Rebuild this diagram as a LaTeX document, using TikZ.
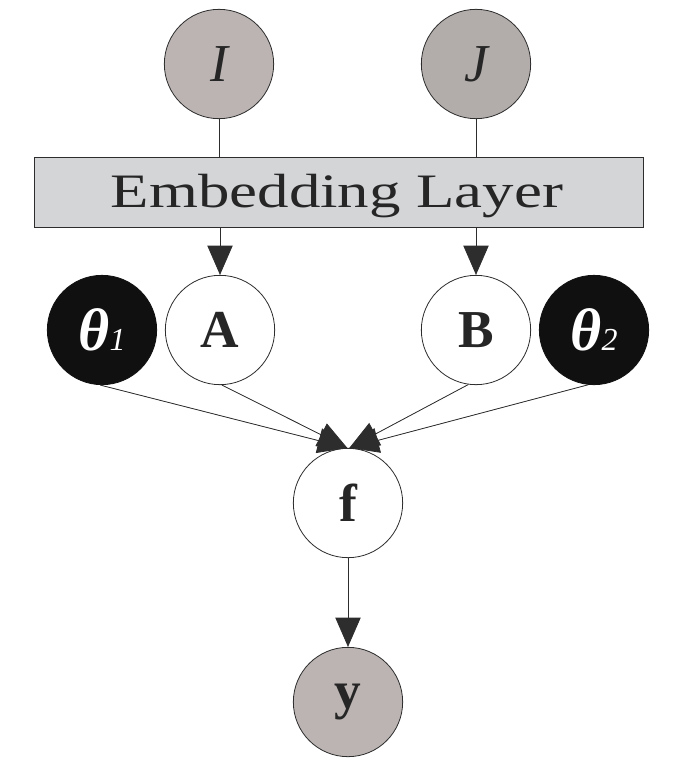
\documentclass[tikz,border=0pt]{standalone}
\usepackage{fontspec}
\setmainfont{Liberation Serif}
\usetikzlibrary{arrows.meta}
\definecolor{ifill}{RGB}{187,180,178}
\definecolor{jfill}{RGB}{178,173,171}
\definecolor{yfill}{RGB}{187,180,178}
\definecolor{embfill}{RGB}{211,213,215}
\definecolor{thfill}{RGB}{16,16,16}
\definecolor{edge}{RGB}{45,45,45}
\begin{document}
\begin{tikzpicture}[x=0.75pt,y=-0.75pt,
  nodecirc/.style={circle,draw=edge,line width=0.6pt,minimum size=82pt,inner sep=0pt},
  conn/.style={line width=0.6pt,draw=edge},
  arr/.style={conn,-{Triangle[length=22pt,width=19pt]},fill=edge},
  ital/.style={font=\fontsize{40pt}{40pt}\selectfont\itshape,text=black!85},
  boldl/.style={font=\fontsize{40pt}{40pt}\selectfont\bfseries,text=black!85},
  thl/.style={font=\fontsize{45pt}{45pt}\selectfont\bfseries\itshape,text=white}]
\useasboundingbox (0,0) rectangle (688,768);
% top inputs
\node[nodecirc,fill=ifill,ital] (I) at (219,64) {I};
\node[nodecirc,fill=jfill,ital] (J) at (476,64) {J};
% embedding layer
\node[draw=edge,line width=0.6pt,fill=embfill,minimum width=456.75pt,minimum height=52.5pt,inner sep=0pt] (emb) at (338.5,192.5) {};
\node[anchor=base,inner sep=0pt,font=\fontsize{36pt}{36pt}\selectfont,text=black!85] (embtxt) at (337,207) {\scalebox{1.31}[1]{Embedding Layer}};
% middle row
\node[nodecirc,fill=thfill,draw=thfill,thl] (t1) at (102,330) {θ{\fontsize{24pt}{24pt}\selectfont\mdseries\itshape 1}};
\node[nodecirc,fill=white,boldl] (A) at (220,330) {A};
\node[nodecirc,fill=white,boldl] (B) at (476,330) {B};
\node[nodecirc,fill=thfill,draw=thfill,thl] (t2) at (594,330) {θ{\fontsize{24pt}{24pt}\selectfont\mdseries\itshape 2}};
% f and y
\node[nodecirc,fill=white,boldl] (f) at (348,503) {f};
\node[nodecirc,fill=yfill,boldl] (y) at (348,702) {y};
% connectors
\draw[conn] (I.south) -- (I.south |- emb.north);
\draw[conn] (J.south) -- (J.south |- emb.north);
\draw[arr] (A.north |- emb.south) -- (A.north);
\draw[arr] (B.north |- emb.south) -- (B.north);
\draw[arr] (t1.268) -- ([xshift=-0.5pt]f.north);
\draw[arr] (A.272) -- ([xshift=-0.5pt]f.north);
\draw[arr] (B.262) -- ([xshift=1pt]f.north);
\draw[arr] (t2.264) -- ([xshift=1pt]f.north);
\draw[arr] (f.south) -- (y.north);
\end{tikzpicture}
\end{document}
